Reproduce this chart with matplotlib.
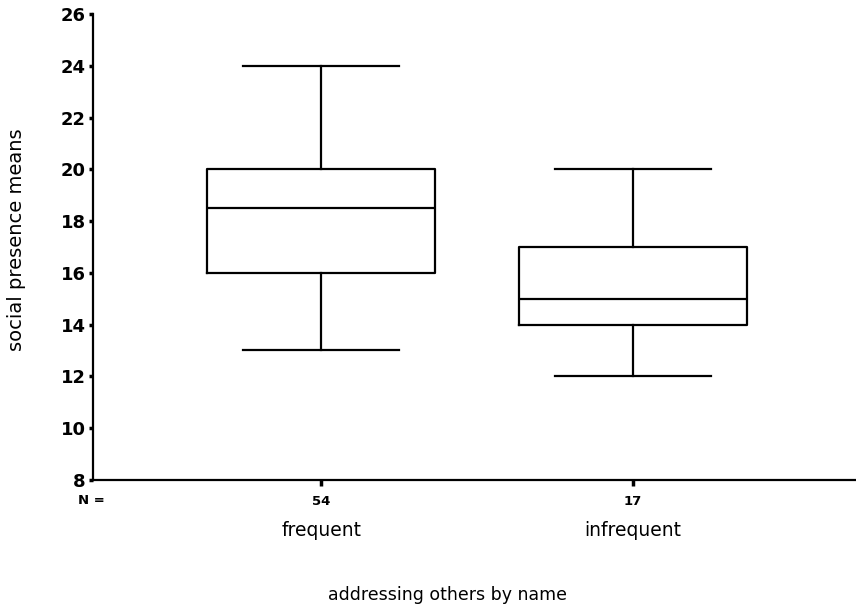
import matplotlib.pyplot as plt

plt.rcParams['font.family'] = ['DejaVu Sans']

groups = ['frequent', 'infrequent']
counts = [54, 17]
whisker_low = [13, 12]
q1 = [16, 14]
medians = [18.5, 15]
q3 = [20, 17]
whisker_high = [24, 20]

y_ticks = [8, 10, 12, 14, 16, 18, 20, 22, 24, 26]

stats = []
for i, g in enumerate(groups):
    stats.append({'label': g, 'whislo': whisker_low[i], 'q1': q1[i],
                  'med': medians[i], 'q3': q3[i], 'whishi': whisker_high[i],
                  'fliers': []})

fig = plt.figure(figsize=(8.56, 6.12), dpi=100)
ax = fig.add_axes([0.109, 0.216, 0.891, 0.761])

lw = 1.6
ax.bxp(stats, positions=[1, 2], widths=0.73, capwidths=0.50,
       showfliers=False,
       boxprops=dict(color='black', linewidth=lw),
       medianprops=dict(color='black', linewidth=lw),
       whiskerprops=dict(color='black', linewidth=lw),
       capprops=dict(color='black', linewidth=lw))

ax.set_xlim(0.269, 2.715)
ax.set_ylim(8, 26)

ax.spines['top'].set_visible(False)
ax.spines['right'].set_visible(False)
ax.spines['left'].set_linewidth(1.6)
ax.spines['bottom'].set_linewidth(1.6)

ax.set_yticks(y_ticks)
ax.set_yticklabels([str(v) for v in y_ticks], fontsize=13, fontweight='bold')
ax.tick_params(axis='y', length=3, width=2.5, pad=2.5)

ax.set_xticks([1, 2])
ax.set_xticklabels([str(c) for c in counts], fontsize=9.5, fontweight='bold')
ax.tick_params(axis='x', length=4, width=2.5, pad=7)

ax.text(78 / 856, 1 - 501 / 612, 'N =', transform=fig.transFigure,
        fontsize=9.5, fontweight='bold', ha='left', va='center')

for i, g in enumerate(groups):
    ax.text(i + 1, -0.109, g, transform=ax.get_xaxis_transform(),
            fontsize=13.5, ha='center', va='center')

fig.text(447 / 856, 1 - 595 / 612, 'addressing others by name', fontsize=12.5,
         ha='center', va='center')
ax.set_ylabel('social presence means', fontsize=14)
ax.yaxis.set_label_coords(-0.088, 0.515)

plt.savefig('out.png', dpi=100)
